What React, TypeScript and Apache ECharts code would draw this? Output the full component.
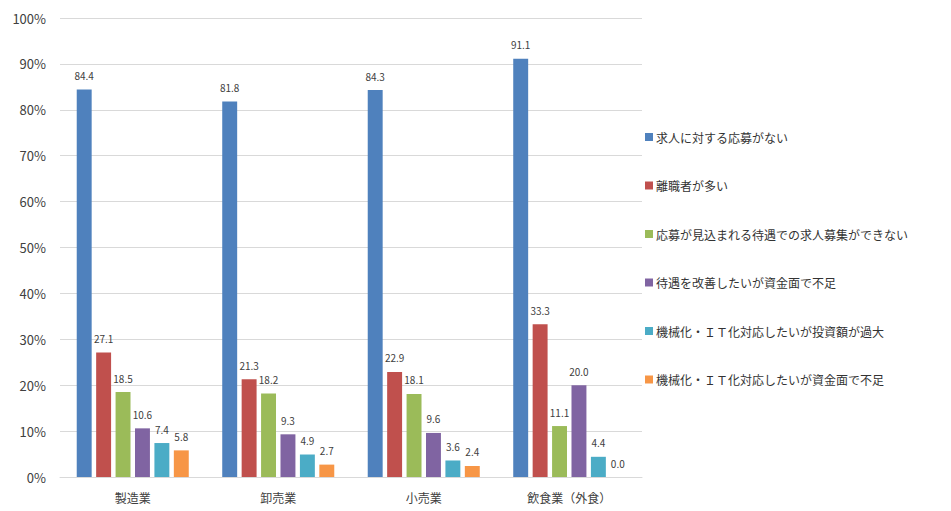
import React, { useEffect, useRef } from "react";
import * as echarts from "echarts";

const categories = ["製造業", "卸売業", "小売業", "飲食業（外食）"];
const seriesNames = [
  "求人に対する応募がない",
  "離職者が多い",
  "応募が見込まれる待遇での求人募集ができない",
  "待遇を改善したいが資金面で不足",
  "機械化・ＩＴ化対応したいが投資額が過大",
  "機械化・ＩＴ化対応したいが資金面で不足",
];
const s1 = [84.4, 81.8, 84.3, 91.1];
const s2 = [27.1, 21.3, 22.9, 33.3];
const s3 = [18.5, 18.2, 18.1, 11.1];
const s4 = [10.6, 9.3, 9.6, 20.0];
const s5 = [7.4, 4.9, 3.6, 4.4];
const s6 = [5.8, 2.7, 2.4, 0.0];
const seriesValues = [s1, s2, s3, s4, s5, s6];
const colors = ["#4F81BD", "#C0504D", "#9BBB59", "#8064A2", "#4BACC6", "#F79646"];

const FONT = "'Noto Sans CJK JP', 'Noto Sans', sans-serif";

export default function App() {
  const ref = useRef<HTMLDivElement>(null);
  useEffect(() => {
    if (!ref.current) return;
    const chart = echarts.init(ref.current, undefined, { renderer: "svg" });
    chart.setOption({
      animation: false,
      textStyle: { fontFamily: FONT },
      color: colors,
      grid: { left: 60, right: 309, top: 18, bottom: 34 },
      legend: {
        orient: "vertical",
        left: 640,
        top: 126,
        itemWidth: 8,
        itemHeight: 8,
        itemGap: 36.5,
        icon: "rect",
        textStyle: { fontSize: 12, color: "#333", fontFamily: FONT, padding: [0, 0, 0, -2] },
        data: seriesNames,
      },
      xAxis: {
        type: "category",
        data: categories,
        axisTick: { show: false },
        axisLine: { lineStyle: { color: "#D9D9D9", width: 1 } },
        axisLabel: { color: "#404040", fontSize: 12, margin: 14, fontFamily: FONT },
      },
      yAxis: {
        type: "value",
        min: 0,
        max: 100,
        interval: 10,
        axisLine: { show: false },
        axisTick: { show: false },
        axisLabel: { formatter: "{value}%", color: "#404040", fontSize: 13, margin: 14, fontFamily: FONT },
        splitLine: { lineStyle: { color: "#D9D9D9", width: 1 } },
      },
      series: seriesNames.map((name, i) => ({
        name,
        type: "bar",
        data: seriesValues[i],
        barGap: "30%",
        barCategoryGap: "23%",
        label: {
          show: true,
          position: "top",
          distance: 9,
          fontSize: 10,
          color: "#404040",
          fontFamily: FONT,
          formatter: (p: any) => Number(p.value).toFixed(1),
        },
      })),
    });
    return () => chart.dispose();
  }, []);
  return <div ref={ref} style={{ position: "fixed", left: 0, top: 0, width: 951, height: 511, background: "#fff" }} />;
}
